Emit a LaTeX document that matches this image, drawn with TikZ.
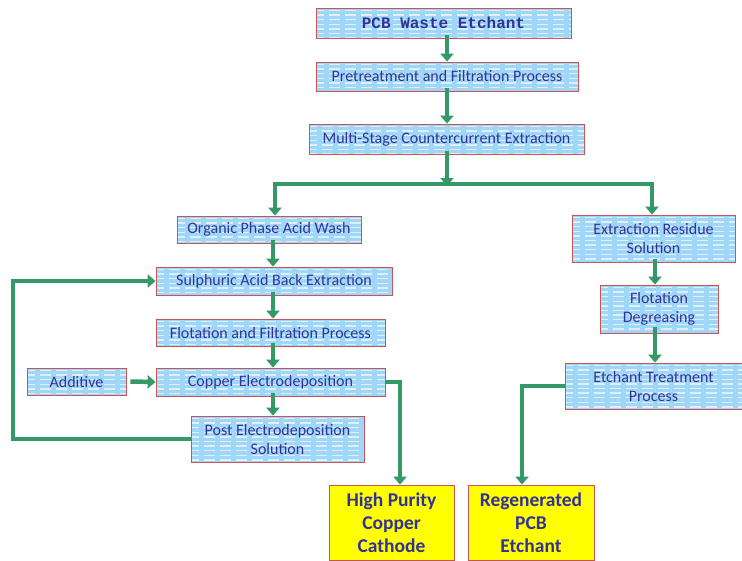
\documentclass[tikz,border=0pt]{standalone}
\usepackage{fontspec}
\setmainfont{Carlito}
\newfontfamily\titlefont{Liberation Mono}
\usetikzlibrary{arrows.meta}
\definecolor{boxred}{RGB}{200,85,85}
\definecolor{boxfill}{RGB}{160,215,248}
\definecolor{txtblue}{RGB}{50,50,150}
\definecolor{flowgreen}{RGB}{51,153,102}
\definecolor{ybox}{RGB}{255,255,0}
\tikzset{
  procbox/.style={draw=boxred, line width=0.8pt, fill=boxfill, rectangle, inner sep=0pt,
    text=txtblue, align=center, font=\fontsize{16}{19}\selectfont,
    path picture={
      \foreach \k in {0,...,20}{
        \draw[white, line width=1.3pt, opacity=0.65, dash pattern=on 11pt off 5pt]
          ([xshift=-3pt, yshift={-2.5pt-4.6pt*\k}]path picture bounding box.north west) -- ++(400pt,0);
      }
    }},
  yelbox/.style={draw=boxred, line width=0.8pt, fill=ybox, rectangle, inner sep=0pt,
    text=txtblue, align=center, font=\fontsize{19.5}{23}\selectfont\bfseries},
  arr/.style={draw=flowgreen, line width=4.5pt, -{Triangle[width=13pt,length=8pt]}},
}
\begin{document}
\begin{tikzpicture}[x=1pt,y=-1pt]
\useasboundingbox (0,0) rectangle (742,560);
% boxes
\node[procbox, minimum width=255, minimum height=30, font=\titlefont\fontsize{16}{18}\selectfont\bfseries] (b1) at (443.5,23) {PCB Waste Etchant};
\node[procbox, minimum width=262, minimum height=29] (b2) at (447,76.5) {Pretreatment and Filtration Process};
\node[procbox, minimum width=275, minimum height=30] (b3) at (446.5,139) {Multi-Stage Countercurrent Extraction};
\node[procbox, minimum width=184, minimum height=27] (b4) at (269,229.5) {Organic Phase Acid Wash};
\node[procbox, minimum width=163, minimum height=47] (b5) at (653.5,238.5) {Extraction Residue\\Solution};
\node[procbox, minimum width=236, minimum height=28] (b6) at (274,281) {Sulphuric Acid Back Extraction};
\node[procbox, minimum width=229, minimum height=27] (b7) at (270.5,332.5) {Flotation and Filtration Process};
\node[procbox, minimum width=229, minimum height=28] (b8) at (270.5,382) {Copper Electrodeposition};
\node[procbox, minimum width=99, minimum height=27] (b9) at (76.5,381.5) {Additive};
\node[procbox, minimum width=173, minimum height=46] (b10) at (277.5,439) {Post Electrodeposition\\Solution};
\node[procbox, minimum width=118, minimum height=48] (b11) at (659,309) {Flotation\\Degreasing};
\node[procbox, minimum width=177, minimum height=46] (b12) at (653.5,386) {Etchant Treatment\\Process};
\node[yelbox, minimum width=125, minimum height=75] (b13) at (391.5,522.5) {High Purity\\Copper\\Cathode};
\node[yelbox, minimum width=126, minimum height=75] (b14) at (531,522.5) {Regenerated\\PCB\\Etchant};
% helper coordinates
\coordinate (mx) at (447,0);
\coordinate (split) at (447,184);
\coordinate (jl) at (275,184);
\coordinate (jr) at (652,184);
\coordinate (lx) at (273,0);
\coordinate (rx) at (655,0);
\coordinate (fb) at (13,0);
\coordinate (cx) at (400,0);
\coordinate (ex) at (522,0);
% main column
\draw[arr] ([yshift=3pt]mx |- b1.south) -- (mx |- b2.north);
\draw[arr] ([yshift=3pt]mx |- b2.south) -- (mx |- b3.north);
\draw[arr] ([yshift=3pt]mx |- b3.south) -- ([yshift=-2pt]split);
\draw[draw=flowgreen, line width=4.5pt, {Triangle[width=13pt,length=8pt]}-{Triangle[width=13pt,length=8pt]}]
  (jl |- b4.north) -- (jl) -- (jr) -- (jr |- b5.north);
% left column
\draw[arr] ([yshift=3pt]lx |- b4.south) -- (lx |- b6.north);
\draw[arr] ([yshift=3pt]lx |- b6.south) -- (lx |- b7.north);
\draw[arr] ([yshift=3pt]lx |- b7.south) -- (lx |- b8.north);
\draw[arr] ([yshift=3pt]lx |- b8.south) -- (lx |- b10.north);
\draw[arr] ([xshift=4pt]b9.east) -- (b8.west);
\draw[arr] (b10.west) -| (fb |- b6.west) -- (b6.west);
\draw[arr] (b8.east) -| (cx |- b13.north);
% right column
\draw[arr] ([yshift=3pt]rx |- b5.south) -- (rx |- b11.north);
\draw[arr] ([yshift=6pt]rx |- b11.south) -- (rx |- b12.north);
\draw[arr] (b12.west) -| (ex |- b14.north);
\end{tikzpicture}
\end{document}
